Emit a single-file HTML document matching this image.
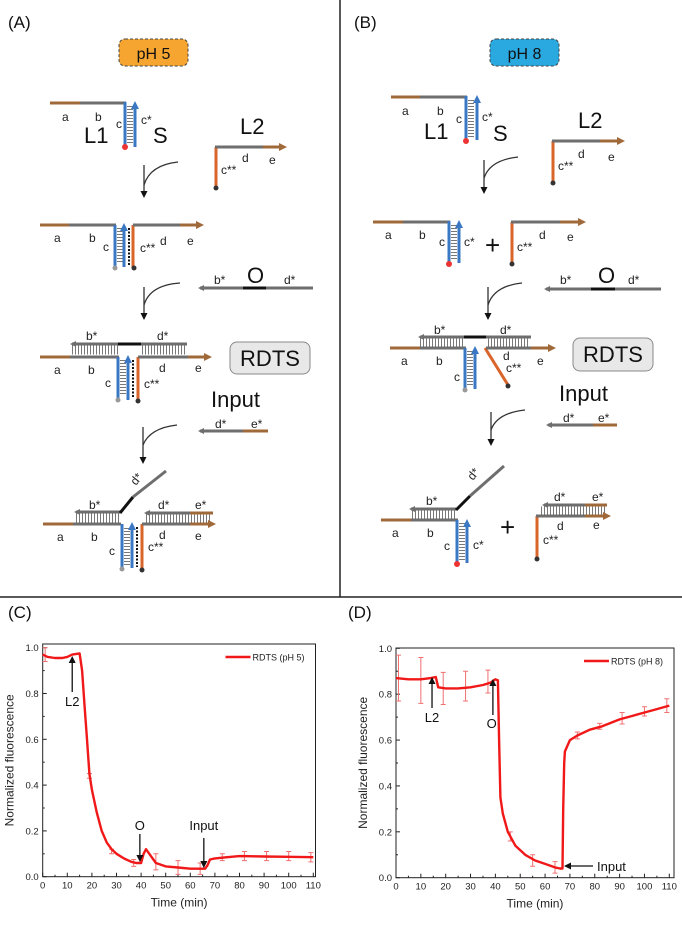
<!DOCTYPE html>
<html><head><meta charset="utf-8"><style>
body{margin:0;background:#fff}
svg{display:block;font-family:"Liberation Sans",Arial,sans-serif}
</style></head><body>
<svg id="fig" width="682" height="929" viewBox="0 0 682 929">
<defs>
<marker id="mg" markerWidth="6" markerHeight="6" refX="4" refY="3" orient="auto" markerUnits="userSpaceOnUse"><path d="M0,0 L6,3 L0,6 z" fill="#6e6e6e"/></marker>
<marker id="mbr" markerWidth="8" markerHeight="8" refX="5" refY="4" orient="auto" markerUnits="userSpaceOnUse"><path d="M0,0 L8,4 L0,8 z" fill="#a0693a"/></marker>
<marker id="mbl" markerWidth="8" markerHeight="8" refX="5" refY="4" orient="auto" markerUnits="userSpaceOnUse"><path d="M0,0 L8,4 L0,8 z" fill="#3b78c4"/></marker>
<marker id="mk" markerWidth="7" markerHeight="7" refX="5" refY="3.5" orient="auto" markerUnits="userSpaceOnUse"><path d="M0,0 L7,3.5 L0,7 z" fill="#111"/></marker>
</defs>
<style>
.br{stroke:#a0693a;stroke-width:3;fill:none}
.gr{stroke:#6e6e6e;stroke-width:3;fill:none}
.bl{stroke:#3b78c4;stroke-width:3;fill:none}
.or{stroke:#d9652a;stroke-width:3;fill:none}
.bk{stroke:#111;stroke-width:3;fill:none}
.rv{stroke:#777;stroke-width:6;stroke-dasharray:1 2;fill:none}
.rh{stroke:#777;stroke-width:9;stroke-dasharray:1 2;fill:none}
.dt{stroke:#111;stroke-width:2;stroke-dasharray:2 1.5;fill:none}
.cv{stroke:#333;stroke-width:1.3;fill:none}
.l{font-size:12px;fill:#222}
.big{font-size:22px;fill:#111}
.pl{font-size:17px;fill:#111}
</style>
<line x1="340" y1="0" x2="340" y2="597" stroke="#222" stroke-width="1.5"/>
<line x1="0" y1="597" x2="682" y2="597" stroke="#222" stroke-width="1.5"/>
<text x="8" y="28" class="pl">(A)</text>
<text x="354" y="28" class="pl">(B)</text>
<text x="8" y="618" class="pl">(C)</text>
<text x="348" y="618" class="pl">(D)</text>
<g><rect x="119" y="39" width="69" height="27" rx="6" fill="#f6a531" stroke="#444" stroke-dasharray="3 2"/><text x="153.5" y="59" text-anchor="middle" font-size="16" fill="#111">pH 5</text></g>
<g><rect x="490" y="39" width="69" height="27" rx="6" fill="#2aa8e0" stroke="#444" stroke-dasharray="3 2"/><text x="524.5" y="59" text-anchor="middle" font-size="16" fill="#111">pH 8</text></g>

<g>
<line x1="50" y1="103" x2="80" y2="103" class="br"/><line x1="80" y1="103" x2="126" y2="103" class="gr"/>
<line x1="130" y1="106" x2="130" y2="143" class="rv"/>
<line x1="125" y1="102" x2="125" y2="147" class="bl"/>
<line x1="135" y1="147" x2="135" y2="104" class="bl" marker-end="url(#mbl)"/>
<circle cx="125" cy="147" r="3" fill="#e33"/>
<text x="62" y="121" class="l">a</text><text x="95" y="121" class="l">b</text><text x="116" y="128" class="l">c</text><text x="141" y="124" class="l">c*</text>
<text x="84" y="143" class="big">L1</text><text x="153" y="143" class="big">S</text>
</g>
<g>
<line x1="216" y1="147" x2="216" y2="188" class="or"/><line x1="215" y1="147" x2="263" y2="147" class="gr"/><line x1="263" y1="147" x2="284" y2="147" class="br" marker-end="url(#mbr)"/>
<circle cx="216" cy="188" r="2.5" fill="#333"/>
<text x="240" y="134" class="big" font-size="20">L2</text>
<text x="221" y="174" class="l">c**</text><text x="242" y="162" class="l">d</text><text x="269" y="164" class="l">e</text>
</g>
<g><path d="M178,162 Q150,165 144,185" class="cv"/><line x1="144" y1="165" x2="144" y2="196" class="cv" marker-end="url(#mk)"/></g>
<g>
<line x1="40" y1="225" x2="69" y2="225" class="br"/><line x1="69" y1="225" x2="116" y2="225" class="gr"/>
<line x1="115" y1="225" x2="115" y2="267" class="bl"/><line x1="120" y1="228" x2="120" y2="263" class="rv"/>
<line x1="124" y1="267" x2="124" y2="226" class="bl" marker-end="url(#mbl)"/><line x1="129" y1="228" x2="129" y2="266" class="dt"/>
<line x1="133" y1="225" x2="133" y2="268" class="or"/><line x1="133" y1="225" x2="180" y2="225" class="gr"/><line x1="180" y1="225" x2="201" y2="225" class="br" marker-end="url(#mbr)"/>
<circle cx="115" cy="268" r="2.5" fill="#999"/><circle cx="134" cy="268" r="2.5" fill="#333"/>
<text x="54" y="242" class="l">a</text><text x="89" y="242" class="l">b</text><text x="103" y="251" class="l">c</text><text x="140" y="252" class="l">c**</text><text x="160" y="245" class="l">d</text><text x="187" y="245" class="l">e</text>
</g>
<g>
<line x1="313" y1="288" x2="200" y2="288" class="gr" marker-end="url(#mg)"/><line x1="243" y1="288" x2="266" y2="288" class="bk"/>
<text x="214" y="284" class="l">b*</text><text x="247" y="283" class="big">O</text><text x="284" y="284" class="l">d*</text>
</g>
<g><path d="M180,283 Q150,285 144,305" class="cv"/><line x1="144" y1="287" x2="144" y2="318" class="cv" marker-end="url(#mk)"/></g>
<g>
<line x1="72" y1="350" x2="118" y2="350" class="rh"/><line x1="142" y1="350" x2="186" y2="350" class="rh"/>
<line x1="187" y1="344" x2="72" y2="344" class="gr" marker-end="url(#mg)"/><line x1="118" y1="344" x2="141" y2="344" class="bk"/>
<line x1="40" y1="357" x2="70" y2="357" class="br"/><line x1="70" y1="357" x2="119" y2="357" class="gr"/>
<line x1="118" y1="357" x2="118" y2="399" class="bl"/><line x1="123" y1="360" x2="123" y2="396" class="rv"/>
<line x1="128" y1="400" x2="128" y2="358" class="bl" marker-end="url(#mbl)"/><line x1="133" y1="360" x2="133" y2="398" class="dt"/>
<line x1="138" y1="357" x2="138" y2="400" class="or"/><line x1="138" y1="357" x2="188" y2="357" class="gr"/><line x1="188" y1="357" x2="209" y2="357" class="br" marker-end="url(#mbr)"/>
<circle cx="118" cy="400" r="2.5" fill="#999"/><circle cx="138" cy="401" r="2.5" fill="#333"/>
<text x="86" y="340" class="l">b*</text><text x="157" y="340" class="l">d*</text>
<text x="54" y="374" class="l">a</text><text x="88" y="374" class="l">b</text><text x="159" y="372" class="l">d</text><text x="195" y="372" class="l">e</text>
<text x="105" y="387" class="l">c</text><text x="144" y="388" class="l">c**</text>
</g>
<g><rect x="230" y="342" width="80" height="32" rx="7" fill="#e8e8e8" stroke="#888"/><text x="270" y="366" text-anchor="middle" class="big">RDTS</text></g>
<g>
<text x="211" y="407" class="big" font-size="20">Input</text>
<line x1="243" y1="431" x2="200" y2="431" class="gr" marker-end="url(#mg)"/><line x1="243" y1="431" x2="268" y2="431" class="br"/>
<text x="215" y="428" class="l">d*</text><text x="251" y="428" class="l">e*</text>
</g>
<g><path d="M177,425 Q150,428 143,445" class="cv"/><line x1="143" y1="427" x2="143" y2="462" class="cv" marker-end="url(#mk)"/></g>
<g>
<line x1="76" y1="518" x2="119" y2="518" class="rh"/><line x1="146" y1="519" x2="212" y2="519" class="rh"/>
<line x1="120" y1="512" x2="76" y2="512" class="gr" marker-end="url(#mg)"/>
<line x1="120" y1="513" x2="133" y2="497" class="bk"/><line x1="133" y1="497" x2="166" y2="471" class="gr"/>
<text x="0" y="0" class="l" transform="translate(136,486) rotate(-52)">d*</text>
<line x1="190" y1="513" x2="146" y2="513" class="gr" marker-end="url(#mg)"/><line x1="190" y1="513" x2="213" y2="513" class="br"/>
<line x1="43" y1="524" x2="73" y2="524" class="br"/><line x1="73" y1="524" x2="121" y2="524" class="gr"/>
<line x1="122" y1="524" x2="122" y2="568" class="bl"/><line x1="127" y1="528" x2="127" y2="565" class="rv"/>
<line x1="132" y1="568" x2="132" y2="525" class="bl" marker-end="url(#mbl)"/><line x1="137" y1="527" x2="137" y2="567" class="dt"/>
<line x1="142" y1="524" x2="142" y2="569" class="or"/><line x1="142" y1="524" x2="190" y2="524" class="gr"/><line x1="190" y1="524" x2="213" y2="524" class="br" marker-end="url(#mbr)"/>
<circle cx="122" cy="569" r="2.5" fill="#999"/><circle cx="142" cy="570" r="2.5" fill="#333"/>
<text x="89" y="509" class="l">b*</text><text x="158" y="509" class="l">d*</text><text x="195" y="509" class="l">e*</text>
<text x="57" y="541" class="l">a</text><text x="91" y="541" class="l">b</text><text x="159" y="539" class="l">d</text><text x="195" y="540" class="l">e</text>
<text x="109" y="555" class="l">c</text><text x="148" y="551" class="l">c**</text>
</g>

<g>
<line x1="391" y1="97" x2="420" y2="97" class="br"/><line x1="420" y1="97" x2="467" y2="97" class="gr"/>
<line x1="466" y1="96" x2="466" y2="140" class="bl"/><line x1="471" y1="100" x2="471" y2="137" class="rv"/>
<line x1="477" y1="140" x2="477" y2="98" class="bl" marker-end="url(#mbl)"/><circle cx="466" cy="141" r="3" fill="#e33"/>
<text x="402" y="115" class="l">a</text><text x="437" y="115" class="l">b</text><text x="456" y="123" class="l">c</text><text x="482" y="121" class="l">c*</text>
<text x="424" y="139" class="big">L1</text><text x="493" y="141" class="big">S</text>
</g>
<g>
<line x1="553" y1="141" x2="553" y2="183" class="or"/><line x1="552" y1="141" x2="600" y2="141" class="gr"/><line x1="600" y1="141" x2="622" y2="141" class="br" marker-end="url(#mbr)"/>
<circle cx="553" cy="183" r="2.5" fill="#333"/>
<text x="578" y="128" class="big" font-size="20">L2</text>
<text x="558" y="170" class="l">c**</text><text x="578" y="158" class="l">d</text><text x="608" y="161" class="l">e</text>
</g>
<g><path d="M518,157 Q490,160 484,178" class="cv"/><line x1="484" y1="160" x2="484" y2="192" class="cv" marker-end="url(#mk)"/></g>
<g>
<line x1="373" y1="222" x2="403" y2="222" class="br"/><line x1="403" y1="222" x2="450" y2="222" class="gr"/>
<line x1="449" y1="221" x2="449" y2="263" class="bl"/><line x1="454" y1="225" x2="454" y2="260" class="rv"/>
<line x1="459" y1="263" x2="459" y2="223" class="bl" marker-end="url(#mbl)"/><circle cx="449" cy="264" r="3" fill="#e33"/>
<text x="385" y="239" class="l">a</text><text x="419" y="239" class="l">b</text><text x="439" y="246" class="l">c</text><text x="464" y="246" class="l">c*</text>
<text x="485" y="254" font-size="26" fill="#111">+</text>
<line x1="512" y1="222" x2="512" y2="264" class="or"/><line x1="511" y1="222" x2="560" y2="222" class="gr"/><line x1="560" y1="222" x2="583" y2="222" class="br" marker-end="url(#mbr)"/>
<circle cx="512" cy="264" r="2.5" fill="#333"/>
<text x="517" y="251" class="l">c**</text><text x="539" y="239" class="l">d</text><text x="567" y="241" class="l">e</text>
</g>
<g>
<line x1="661" y1="289" x2="546" y2="289" class="gr" marker-end="url(#mg)"/><line x1="591" y1="289" x2="615" y2="289" class="bk"/>
<text x="560" y="284" class="l">b*</text><text x="598" y="283" class="big">O</text><text x="628" y="284" class="l">d*</text>
</g>
<g><path d="M522,283 Q494,286 488,305" class="cv"/><line x1="488" y1="287" x2="488" y2="318" class="cv" marker-end="url(#mk)"/></g>
<g>
<line x1="420" y1="343" x2="464" y2="343" class="rh"/><line x1="488" y1="343" x2="530" y2="343" class="rh"/>
<line x1="531" y1="337" x2="420" y2="337" class="gr" marker-end="url(#mg)"/><line x1="464" y1="337" x2="486" y2="337" class="bk"/>
<line x1="390" y1="348" x2="420" y2="348" class="br"/><line x1="420" y1="348" x2="466" y2="348" class="gr"/>
<line x1="465" y1="348" x2="465" y2="389" class="bl"/><line x1="470" y1="351" x2="470" y2="386" class="rv"/>
<line x1="475" y1="389" x2="475" y2="349" class="bl" marker-end="url(#mbl)"/>
<line x1="485" y1="348" x2="508" y2="385" class="or"/><line x1="486" y1="348" x2="531" y2="348" class="gr"/><line x1="531" y1="348" x2="553" y2="348" class="br" marker-end="url(#mbr)"/>
<circle cx="465" cy="390" r="2.5" fill="#999"/><circle cx="508" cy="386" r="2.5" fill="#333"/>
<text x="434" y="334" class="l">b*</text><text x="500" y="334" class="l">d*</text>
<text x="401" y="365" class="l">a</text><text x="436" y="365" class="l">b</text><text x="503" y="360" class="l">d</text><text x="506" y="372" class="l">c**</text><text x="537" y="365" class="l">e</text><text x="454" y="381" class="l">c</text>
</g>
<g><rect x="573" y="338" width="80" height="33" rx="7" fill="#e8e8e8" stroke="#888"/><text x="613" y="362" text-anchor="middle" class="big">RDTS</text></g>
<g>
<text x="559" y="401" class="big" font-size="20">Input</text>
<line x1="593" y1="425" x2="548" y2="425" class="gr" marker-end="url(#mg)"/><line x1="593" y1="425" x2="617" y2="425" class="br"/>
<text x="563" y="422" class="l">d*</text><text x="598" y="422" class="l">e*</text>
</g>
<g><path d="M525,410 Q497,413 491,430" class="cv"/><line x1="491" y1="412" x2="491" y2="444" class="cv" marker-end="url(#mk)"/></g>
<g>
<line x1="412" y1="514" x2="455" y2="514" class="rh"/>
<line x1="456" y1="509" x2="411" y2="509" class="gr" marker-end="url(#mg)"/>
<line x1="456" y1="510" x2="470" y2="496" class="bk"/><line x1="470" y1="496" x2="504" y2="466" class="gr"/>
<text x="0" y="0" class="l" transform="translate(473,481) rotate(-52)">d*</text>
<line x1="381" y1="520" x2="411" y2="520" class="br"/><line x1="411" y1="520" x2="458" y2="520" class="gr"/>
<line x1="457" y1="520" x2="457" y2="563" class="bl"/><line x1="462" y1="523" x2="462" y2="560" class="rv"/>
<line x1="467" y1="563" x2="467" y2="522" class="bl" marker-end="url(#mbl)"/><circle cx="457" cy="564" r="3" fill="#e33"/>
<text x="426" y="505" class="l">b*</text><text x="392" y="537" class="l">a</text><text x="427" y="537" class="l">b</text><text x="444" y="550" class="l">c</text><text x="473" y="549" class="l">c*</text>
<text x="500" y="536" font-size="26" fill="#111">+</text>
<line x1="541" y1="511" x2="606" y2="511" class="rh"/>
<line x1="585" y1="505" x2="544" y2="505" class="gr" marker-end="url(#mg)"/><line x1="585" y1="505" x2="607" y2="505" class="br"/>
<line x1="537" y1="516" x2="537" y2="559" class="or"/><line x1="536" y1="516" x2="585" y2="516" class="gr"/><line x1="585" y1="516" x2="608" y2="516" class="br" marker-end="url(#mbr)"/>
<circle cx="537" cy="559" r="2.5" fill="#333"/>
<text x="554" y="501" class="l">d*</text><text x="592" y="501" class="l">e*</text><text x="557" y="530" class="l">d</text><text x="593" y="529" class="l">e</text><text x="543" y="544" class="l">c**</text>
</g>

<g id="chartC"></g>
<g id="chartD"></g>
</svg>
<script>
const cTime = [0,2,5,8,10,12,15,16,17,18,19,20,22,24,26,28,30,33,36,38,40,41,42,44,46,50,55,60,64,66,67,68,70,75,80,90,100,110];
const cValue = [0.97,0.96,0.955,0.955,0.96,0.97,0.975,0.9,0.75,0.6,0.45,0.38,0.28,0.2,0.15,0.12,0.1,0.08,0.065,0.06,0.06,0.1,0.12,0.09,0.06,0.045,0.04,0.035,0.035,0.035,0.05,0.075,0.08,0.085,0.09,0.088,0.087,0.085];
const cErrT = [1,19,28,37,46,55,64,73,82,91,100,109];
const cErrV = [0.97,0.44,0.11,0.06,0.065,0.04,0.035,0.085,0.09,0.09,0.09,0.085];
const cErrE = [0.03,0.01,0.01,0.015,0.035,0.03,0.025,0.015,0.02,0.02,0.02,0.02];
const dTime = [0,5,10,14,16,17,20,25,30,35,38,40,41,41.5,42,43,45,48,52,56,60,64,66,67,67.3,67.7,68,70,73,78,83,90,95,100,105,110];
const dValue = [0.87,0.865,0.865,0.87,0.875,0.83,0.825,0.825,0.83,0.84,0.85,0.865,0.86,0.6,0.35,0.28,0.2,0.14,0.1,0.075,0.06,0.045,0.04,0.04,0.3,0.5,0.55,0.6,0.62,0.645,0.66,0.69,0.705,0.72,0.735,0.75];
const dErrT = [1,10,19,28,37,46,55,64,73,82,91,100,109];
const dErrV = [0.87,0.86,0.825,0.835,0.855,0.18,0.075,0.045,0.62,0.66,0.695,0.725,0.75];
const dErrE = [0.1,0.1,0.07,0.065,0.05,0.02,0.025,0.025,0.015,0.013,0.025,0.02,0.03];
const xTicks = [0,10,20,30,40,50,60,70,80,90,100,110];
const yTicks = [0,0.2,0.4,0.6,0.8,1.0];
const NS = 'http://www.w3.org/2000/svg';
function mk(tag, attrs, parent, text){const e=document.createElementNS(NS,tag);for(const k in attrs)e.setAttribute(k,attrs[k]);if(text!==undefined)e.textContent=text;parent.appendChild(e);return e;}
function drawChart(g, box, times, vals, eT, eV, eE, legend){
  const sx = t => box.x0 + (t/110)*(box.x110-box.x0);
  const sy = v => box.y0 - v*(box.y0-box.y1);
  const r = mk('rect',{x:box.x0,y:box.top,width:box.right-box.x0,height:box.y0-box.top,fill:'none',stroke:'#222','stroke-width':1},g);
   
  for(let t=0;t<=110;t+=5){const x=sx(t);mk('line',{x1:x,x2:x,y1:box.y0,y2:box.y0-(t%10===0?4:2),stroke:'#222'},g);}
  for(let v=0;v<=1.0001;v+=0.1){const y=sy(v);mk('line',{x1:box.x0,x2:box.x0+(Math.round(v*10)%2===0?4:2),y1:y,y2:y,stroke:'#222'},g);}
  xTicks.forEach(t=>{const e=mk('text',{x:sx(t),y:box.y0+12,'text-anchor':'middle','font-size':9.5,fill:'#222'},g,String(t));
     });
  yTicks.forEach(v=>{const e=mk('text',{x:box.x0-4,y:sy(v)+3.5,'text-anchor':'end','font-size':9.5,fill:'#222'},g,v.toFixed(1));
     });
  const xt=mk('text',{x:(box.x0+box.right)/2,y:box.y0+30,'text-anchor':'middle','font-size':12,fill:'#222'},g,'Time (min)');
   
  const yt=mk('text',{x:0,y:0,'text-anchor':'middle','font-size':12,fill:'#222',transform:`translate(${box.x0-29},${(box.top+box.y0)/2}) rotate(-90)`},g,'Normalized fluorescence');
   
  eT.forEach((t,i)=>{const x=sx(t),y1=sy(eV[i]-eE[i]),y2=sy(eV[i]+eE[i]);
    const eb=mk('path',{d:`M${x},${y1}V${y2}M${x-2.5},${y1}H${x+2.5}M${x-2.5},${y2}H${x+2.5}`,stroke:'#f07070','stroke-width':1,fill:'none'},g);
     });
  const d=times.map((t,i)=>(i?'L':'M')+sx(t).toFixed(1)+','+sy(vals[i]).toFixed(1)).join('');
  const ln=mk('path',{d:d,stroke:'#f01818','stroke-width':2.4,fill:'none','stroke-linejoin':'round'},g);
   
  const lg=mk('g',{},g);
   
  mk('line',{x1:box.right-90,x2:box.right-65,y1:box.top+13,y2:box.top+13,stroke:'#f01818','stroke-width':2.4},lg);
  mk('text',{x:box.right-63,y:box.top+16.5,'font-size':9,fill:'#222'},lg,legend);
  return {sx,sy};
}
function arrowAnno(g,x1,y1,x2,y2,name){
  const a=mk('line',{x1,y1,x2,y2,stroke:'#111','stroke-width':1.3,'marker-end':'url(#mk)'},g);
   
}
function label(g,x,y,txt,name,anchor){
  const t=mk('text',{x,y,'text-anchor':anchor||'middle','font-size':13,fill:'#111'},g,txt);
   
}
const gC=document.getElementById('chartC');
const C=drawChart(gC,{x0:42.7,x110:313.3,right:315.5,top:644,y0:876.7,y1:647.7},cTime,cValue,cErrT,cErrV,cErrE,'RDTS (pH 5)');
arrowAnno(gC,C.sx(12),692,C.sx(12),658,'l2-arrow');
label(gC,C.sx(12),706,'L2','l2-annotation');
arrowAnno(gC,C.sx(39.5),834,C.sx(39.5),860,'o-arrow');
label(gC,C.sx(39.5),830,'O','o-annotation');
arrowAnno(gC,C.sx(65.5),838,C.sx(65.5),866,'input-arrow');
label(gC,C.sx(65.5),830,'Input','input-annotation');
const gD=document.getElementById('chartD');
const D=drawChart(gD,{x0:396,x110:669.3,right:674,top:648,y0:877.7,y1:648.3},dTime,dValue,dErrT,dErrV,dErrE,'RDTS (pH 8)');
arrowAnno(gD,D.sx(14.5),708,D.sx(14.5),679,'l2-arrow');
label(gD,D.sx(14.5),722,'L2','l2-annotation');
arrowAnno(gD,D.sx(39),715,D.sx(39),681,'o-arrow');
label(gD,D.sx(38.5),728,'O','o-annotation');
arrowAnno(gD,593,866,566,866,'input-arrow');
label(gD,597,871,'Input','input-annotation','start');
</script>
</body></html>
